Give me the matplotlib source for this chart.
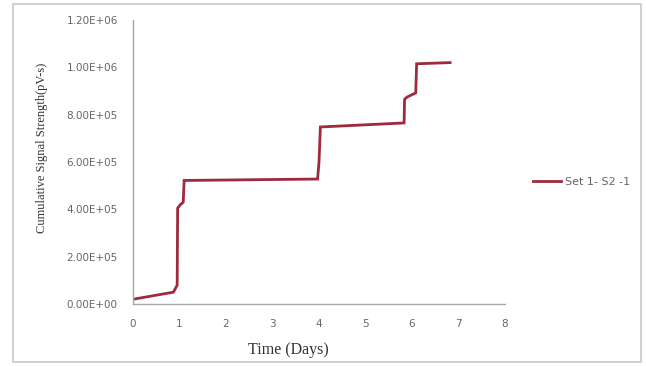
import matplotlib
matplotlib.use("Agg")
import matplotlib.pyplot as plt
from matplotlib.ticker import FuncFormatter
from matplotlib.patches import Rectangle

days = [0, 0.87, 0.95, 0.96, 1.02, 1.08, 1.10, 3.97, 4.00, 4.03, 5.83, 5.84, 5.90, 6.08, 6.10, 6.82]
signal = [2.0e4, 5.0e4, 8.0e4, 4.05e5, 4.2e5, 4.3e5, 5.22e5, 5.28e5, 6.0e5, 7.48e5,
          7.65e5, 8.65e5, 8.75e5, 8.92e5, 1.015e6, 1.02e6]
series_name = "Set 1- S2 -1"
x_ticks = [0, 1, 2, 3, 4, 5, 6, 7, 8]
y_ticks = [0, 2e5, 4e5, 6e5, 8e5, 1.0e6, 1.2e6]

fig = plt.figure(figsize=(6.46, 3.66), dpi=100)
fig.patch.set_facecolor("white")
ax = fig.add_axes([133/646, 1-304/366, (505-133)/646, (304-20)/366])

ax.plot(days, signal, color="#9E2A3C", lw=2.0, solid_joinstyle="miter", label=series_name)
ax.set_xlim(0, 8)
ax.set_ylim(0, 1.2e6)
ax.set_xticks(x_ticks)
ax.set_yticks(y_ticks)
ax.yaxis.set_major_formatter(FuncFormatter(lambda v, p: ("%.2E" % v)))
for s in ["top", "right"]:
    ax.spines[s].set_visible(False)
for s in ["left", "bottom"]:
    ax.spines[s].set_color("#A6A6A6")
    ax.spines[s].set_linewidth(1.0)
ax.tick_params(axis="both", length=0, labelsize=7.5, labelcolor="#666666")
ax.tick_params(axis="x", pad=11)
ax.tick_params(axis="y", pad=11)

fig.text(288/646, 1-350/366, "Time (Days)", ha="center", va="center",
         family="Liberation Serif", fontsize=11.5, color="#333333")
fig.text(42/646, 1-148/366, "Cumulative Signal Strength(pV-s)", ha="center", va="center",
         rotation=90, family="Liberation Serif", fontsize=9, color="#333333")

leg = ax.legend(loc="center left", bbox_to_anchor=(527/646, 1-182/366),
                bbox_transform=fig.transFigure, frameon=False, fontsize=8,
                handlelength=2.6, handletextpad=0.3, borderpad=0)
for t in leg.get_texts():
    t.set_color("#666666")

fig.patches.append(Rectangle((13/646, 4/366), (641-13)/646, (362-4)/366,
                             transform=fig.transFigure, fill=False,
                             edgecolor="#C8C8C8", lw=1.2))

fig.savefig("out.png", dpi=100)
